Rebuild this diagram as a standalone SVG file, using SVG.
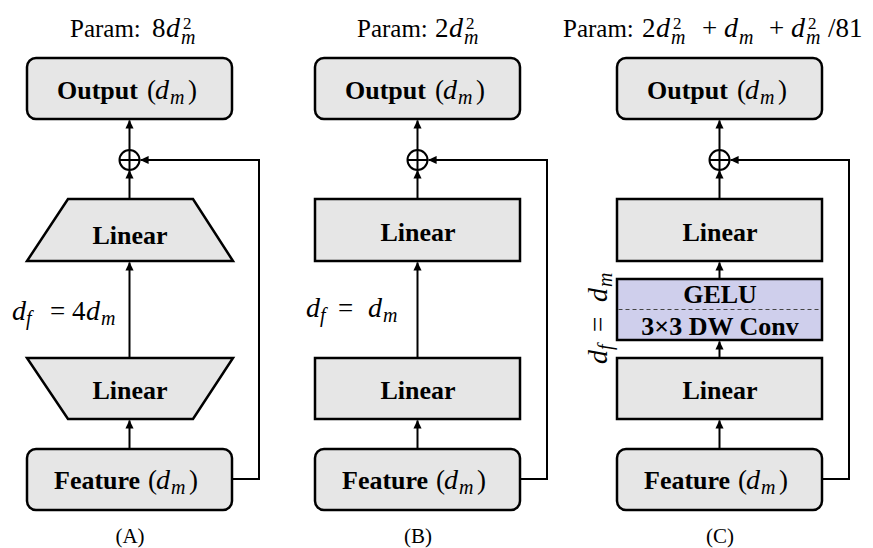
<svg xmlns="http://www.w3.org/2000/svg" width="873" height="548" viewBox="0 0 873 548">
<defs>
<style>
text{font-family:"Liberation Serif","Times New Roman",serif;fill:#000}
.b{font-weight:bold;font-size:26px}
.ti{font-size:25px}
.mi{font-style:italic;font-size:28px}
.mu{font-size:27px}
.sub{font-style:italic;font-size:20px}
.sup{font-size:17px}
.cap{font-size:21px}
.box{fill:#e6e6e6;stroke:#000;stroke-width:2.5}
.gelu{fill:#cfcfec;stroke:#000;stroke-width:2.5}
.ln{fill:none;stroke:#000;stroke-width:2}
.arr{fill:none;stroke:#000;stroke-width:2;marker-end:url(#ah)}
</style>
<marker id="ah" viewBox="0 0 10 10" refX="9" refY="5" markerWidth="9" markerHeight="9" markerUnits="userSpaceOnUse" orient="auto">
<path d="M0,0.5 L9.5,5 L0,9.5 z" fill="#000"/>
</marker>
</defs>
<rect width="873" height="548" fill="#fff"/>

<!-- Titles -->
<g id="title-a">
<text y="37"><tspan class="ti" x="70">Param:</tspan><tspan class="mu" x="152">8</tspan><tspan class="mi" x="166">d</tspan></text>
<text class="sup" x="183" y="29">2</text>
<text class="sub" x="181" y="44">m</text>
</g>
<g id="title-b">
<text y="37"><tspan class="ti" x="357">Param:</tspan><tspan class="mu" x="435">2</tspan><tspan class="mi" x="449">d</tspan></text>
<text class="sup" x="466" y="29">2</text>
<text class="sub" x="464" y="44">m</text>
</g>
<g id="title-c">
<text y="37"><tspan class="ti" x="563">Param:</tspan><tspan class="mu" x="642">2</tspan><tspan class="mi" x="656">d</tspan><tspan class="mu" x="702">+</tspan><tspan class="mi" x="724">d</tspan><tspan class="mu" x="769">+</tspan><tspan class="mi" x="791">d</tspan><tspan class="mu" x="828">/81</tspan></text>
<text class="sup" x="673" y="29">2</text>
<text class="sub" x="671" y="44">m</text>
<text class="sub" x="739" y="44">m</text>
<text class="sup" x="808" y="29">2</text>
<text class="sub" x="806" y="44">m</text>
</g>

<!-- Panel A nodes -->
<g id="a-output">
<rect class="box" x="27" y="58" width="205" height="61" rx="9"/>
<text y="99"><tspan class="b" x="57">Output</tspan><tspan class="mu" x="147">(</tspan><tspan class="mi" x="155">d</tspan><tspan class="sub" x="170" dy="5">m</tspan><tspan class="mu" x="188" dy="-5">)</tspan></text>
</g>
<g id="a-add">
<circle cx="129.5" cy="160" r="10" fill="#fff" stroke="#000" stroke-width="2"/>
<path class="ln" d="M119.5,160 H139.5 M129.5,150 V170"/>
</g>
<g id="a-linear-up">
<polygon class="box" points="68,199 193,199 233,261 27,261"/>
<text class="b" x="130" y="244" text-anchor="middle">Linear</text>
</g>
<g id="a-linear-down">
<polygon class="box" points="27,358 233,358 193,419 68,419"/>
<text class="b" x="130" y="399" text-anchor="middle">Linear</text>
</g>
<g id="a-feature">
<rect class="box" x="27" y="449" width="205" height="61" rx="9"/>
<text y="489"><tspan class="b" x="54">Feature</tspan><tspan class="mu" x="148">(</tspan><tspan class="mi" x="156">d</tspan><tspan class="sub" x="171" dy="5">m</tspan><tspan class="mu" x="189" dy="-5">)</tspan></text>
</g>
<g id="a-label">
<text y="320"><tspan class="mi" x="12">d</tspan><tspan class="sub" x="26" dy="5">f</tspan><tspan class="mu" x="50" dy="-5">=</tspan><tspan class="mu" x="72">4</tspan><tspan class="mi" x="86">d</tspan><tspan class="sub" x="101" dy="5">m</tspan></text>
</g>
<text class="cap" x="130" y="543" text-anchor="middle">(A)</text>

<!-- Panel B nodes -->
<g id="b-output" transform="translate(288,0)">
<rect class="box" x="27" y="58" width="205" height="61" rx="9"/>
<text y="99"><tspan class="b" x="57">Output</tspan><tspan class="mu" x="147">(</tspan><tspan class="mi" x="155">d</tspan><tspan class="sub" x="170" dy="5">m</tspan><tspan class="mu" x="188" dy="-5">)</tspan></text>
</g>
<g id="b-add" transform="translate(288,0)">
<circle cx="129.5" cy="160" r="10" fill="#fff" stroke="#000" stroke-width="2"/>
<path class="ln" d="M119.5,160 H139.5 M129.5,150 V170"/>
</g>
<g id="b-linear-up" transform="translate(288,0)">
<rect class="box" x="27" y="199" width="205" height="62"/>
<text class="b" x="130" y="241" text-anchor="middle">Linear</text>
</g>
<g id="b-linear-down" transform="translate(288,0)">
<rect class="box" x="27" y="358" width="205" height="61"/>
<text class="b" x="130" y="399" text-anchor="middle">Linear</text>
</g>
<g id="b-feature" transform="translate(288,0)">
<rect class="box" x="27" y="449" width="205" height="61" rx="9"/>
<text y="489"><tspan class="b" x="54">Feature</tspan><tspan class="mu" x="148">(</tspan><tspan class="mi" x="156">d</tspan><tspan class="sub" x="171" dy="5">m</tspan><tspan class="mu" x="189" dy="-5">)</tspan></text>
</g>
<g id="b-label" transform="translate(306,317)">
<text y="0"><tspan class="mi" x="0">d</tspan><tspan class="sub" x="14" dy="5">f</tspan><tspan class="mu" x="32" dy="-5">=</tspan><tspan class="mi" x="62">d</tspan><tspan class="sub" x="77" dy="5">m</tspan></text>
</g>
<text class="cap" x="418" y="543" text-anchor="middle">(B)</text>

<!-- Panel C nodes -->
<g id="c-output" transform="translate(590,0)">
<rect class="box" x="27" y="58" width="205" height="61" rx="9"/>
<text y="99"><tspan class="b" x="57">Output</tspan><tspan class="mu" x="147">(</tspan><tspan class="mi" x="155">d</tspan><tspan class="sub" x="170" dy="5">m</tspan><tspan class="mu" x="188" dy="-5">)</tspan></text>
</g>
<g id="c-add" transform="translate(590,0)">
<circle cx="129.5" cy="160" r="10" fill="#fff" stroke="#000" stroke-width="2"/>
<path class="ln" d="M119.5,160 H139.5 M129.5,150 V170"/>
</g>
<g id="c-linear-up" transform="translate(590,0)">
<rect class="box" x="27" y="199" width="205" height="62"/>
<text class="b" x="130" y="241" text-anchor="middle">Linear</text>
</g>
<g id="c-gelu-conv" transform="translate(590,0)">
<rect class="gelu" x="27" y="279" width="205" height="61"/>
<line x1="28.5" y1="309.5" x2="230.5" y2="309.5" stroke="#444" stroke-width="1" stroke-dasharray="4 3"/>
<text class="b" x="130" y="303" text-anchor="middle">GELU</text>
<text class="b" x="130" y="335" text-anchor="middle">3×3 DW Conv</text>
</g>
<g id="c-linear-down" transform="translate(590,0)">
<rect class="box" x="27" y="358" width="205" height="61"/>
<text class="b" x="130" y="399" text-anchor="middle">Linear</text>
</g>
<g id="c-feature" transform="translate(590,0)">
<rect class="box" x="27" y="449" width="205" height="61" rx="9"/>
<text y="489"><tspan class="b" x="54">Feature</tspan><tspan class="mu" x="148">(</tspan><tspan class="mi" x="156">d</tspan><tspan class="sub" x="171" dy="5">m</tspan><tspan class="mu" x="189" dy="-5">)</tspan></text>
</g>
<g id="c-label" transform="translate(607,364) rotate(-90)">
<text y="0"><tspan class="mi" x="0">d</tspan><tspan class="sub" x="14" dy="5">f</tspan><tspan class="mu" x="32" dy="-5">=</tspan><tspan class="mi" x="62">d</tspan><tspan class="sub" x="77" dy="5">m</tspan></text>
</g>
<text class="cap" x="720" y="543" text-anchor="middle">(C)</text>

<!-- Connectors -->
<g id="connectors">
<g id="conn-a">
<line class="arr" x1="129.5" y1="448" x2="129.5" y2="420.5"/>
<line class="arr" x1="129.5" y1="357" x2="129.5" y2="262.5"/>
<line class="arr" x1="129.5" y1="198" x2="129.5" y2="170.5"/>
<line class="arr" x1="129.5" y1="150" x2="129.5" y2="120.5"/>
<path class="arr" d="M233,479 H259 V160 H140.5"/>
</g>
<g id="conn-b" transform="translate(288,0)">
<line class="arr" x1="129.5" y1="448" x2="129.5" y2="420.5"/>
<line class="arr" x1="129.5" y1="357" x2="129.5" y2="262.5"/>
<line class="arr" x1="129.5" y1="198" x2="129.5" y2="170.5"/>
<line class="arr" x1="129.5" y1="150" x2="129.5" y2="120.5"/>
<path class="arr" d="M233,479 H259 V160 H140.5"/>
</g>
<g id="conn-c" transform="translate(590,0)">
<line class="arr" x1="129.5" y1="448" x2="129.5" y2="420.5"/>
<line class="arr" x1="129.5" y1="357" x2="129.5" y2="341.5"/>
<line class="arr" x1="129.5" y1="278" x2="129.5" y2="262.5"/>
<line class="arr" x1="129.5" y1="198" x2="129.5" y2="170.5"/>
<line class="arr" x1="129.5" y1="150" x2="129.5" y2="120.5"/>
<path class="arr" d="M233,479 H259 V160 H140.5"/>
</g>
</g>
</svg>
